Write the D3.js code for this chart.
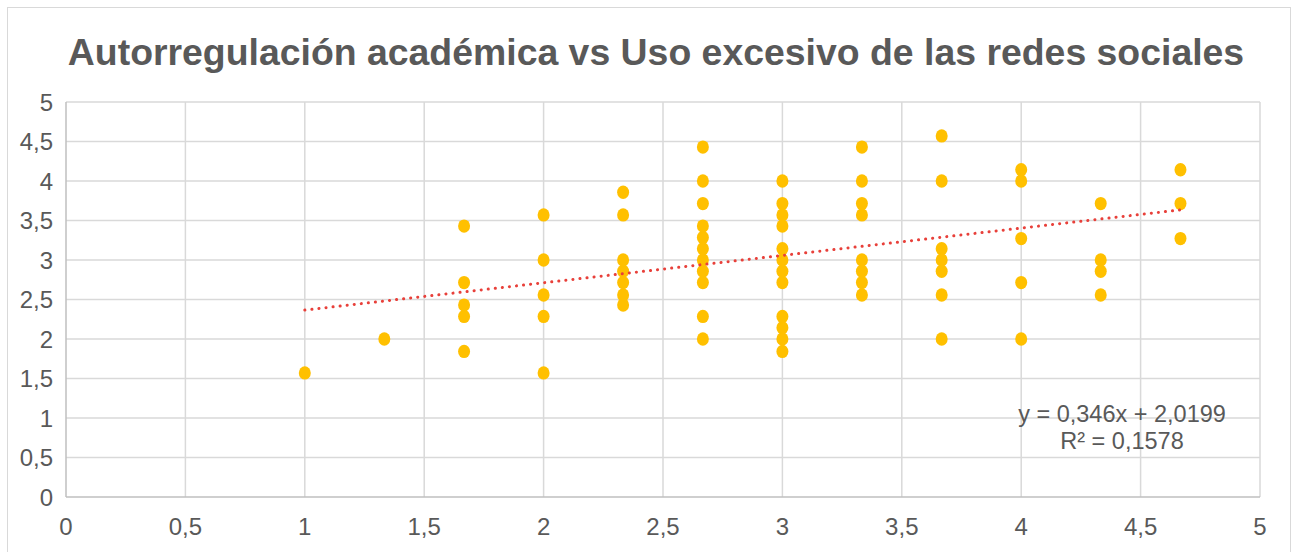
<!DOCTYPE html>
<html>
<head>
<meta charset="utf-8">
<script src="https://cdn.jsdelivr.net/npm/d3@7"></script>
<style>
  body { margin: 0; background: #fff; }
  svg { display: block; font-family: "Liberation Sans", Arial, sans-serif; }
</style>
</head>
<body>
<div id="chart"></div>
<script>
// x values (autorregulación) and y values (uso excesivo), one entry per point
var xs = [1, 1.333,
  1.667, 1.667, 1.667, 1.667, 1.667,
  2, 2, 2, 2, 2,
  2.333, 2.333, 2.333, 2.333, 2.333, 2.333, 2.333,
  2.667, 2.667, 2.667, 2.667, 2.667, 2.667, 2.667, 2.667, 2.667, 2.667, 2.667,
  3, 3, 3, 3, 3, 3, 3, 3, 3, 3, 3, 3,
  3.333, 3.333, 3.333, 3.333, 3.333, 3.333, 3.333, 3.333,
  3.667, 3.667, 3.667, 3.667, 3.667, 3.667, 3.667,
  4, 4, 4, 4, 4,
  4.333, 4.333, 4.333, 4.333,
  4.667, 4.667, 4.667];
var ys = [1.571, 2,
  3.429, 2.714, 2.429, 2.286, 1.843,
  3.571, 3, 2.557, 2.286, 1.571,
  3.857, 3.571, 3, 2.857, 2.714, 2.557, 2.429,
  4.429, 4, 3.714, 3.429, 3.286, 3.143, 3, 2.857, 2.714, 2.286, 2,
  4, 3.714, 3.571, 3.429, 3.143, 3, 2.857, 2.714, 2.286, 2.143, 2, 1.843,
  4.429, 4, 3.714, 3.571, 3, 2.857, 2.714, 2.557,
  4.571, 4, 3.143, 3, 2.857, 2.557, 2,
  4.143, 4, 3.271, 2.714, 2,
  3.714, 3, 2.857, 2.557,
  4.143, 3.714, 3.271];

var xTicks = [0, 0.5, 1, 1.5, 2, 2.5, 3, 3.5, 4, 4.5, 5];
var yTicks = [0, 0.5, 1, 1.5, 2, 2.5, 3, 3.5, 4, 4.5, 5];

var slope = 0.346, intercept = 2.0199;
var eqLines = ["y = 0,346x + 2,0199", "R² = 0,1578"];
var title = "Autorregulación académica vs Uso excesivo de las redes sociales";

var width = 1298, height = 552;
var margin = {left: 66, right: 38, top: 102, bottom: 55};

var svg = d3.select("#chart").append("svg")
    .attr("width", width)
    .attr("height", height);

// outer chart border
svg.append("rect")
    .attr("x", 7.5).attr("y", 7.5)
    .attr("width", 1283).attr("height", 560)
    .attr("fill", "#fff")
    .attr("stroke", "#d9d9d9")
    .attr("stroke-width", 1);

var x = d3.scaleLinear().domain([0, 5]).range([margin.left, width - margin.right]);
var y = d3.scaleLinear().domain([0, 5]).range([height - margin.bottom, margin.top]);

var fmt = function (d) { return String(d).replace(".", ","); };

// gridlines
var grid = svg.append("g");
grid.selectAll("line.v")
    .data(xTicks.slice(1))
    .join("line")
    .attr("class", "v")
    .attr("x1", function (d) { return x(d); })
    .attr("x2", function (d) { return x(d); })
    .attr("y1", y(0)).attr("y2", y(5))
    .attr("stroke", "#d9d9d9").attr("stroke-width", 1.5);
grid.selectAll("line.h")
    .data(yTicks.slice(1))
    .join("line")
    .attr("class", "h")
    .attr("x1", x(0)).attr("x2", x(5))
    .attr("y1", function (d) { return y(d); })
    .attr("y2", function (d) { return y(d); })
    .attr("stroke", "#d9d9d9").attr("stroke-width", 1.5);

// axis lines
svg.append("line")
    .attr("x1", x(0)).attr("x2", x(5))
    .attr("y1", y(0)).attr("y2", y(0))
    .attr("stroke", "#bfbfbf").attr("stroke-width", 1.5);
svg.append("line")
    .attr("x1", x(0)).attr("x2", x(0))
    .attr("y1", y(0)).attr("y2", y(5))
    .attr("stroke", "#bfbfbf").attr("stroke-width", 1.5);

// tick labels
svg.append("g").selectAll("text")
    .data(xTicks)
    .join("text")
    .attr("x", function (d) { return x(d); })
    .attr("y", y(0) + 38)
    .attr("text-anchor", "middle")
    .attr("font-size", 24)
    .attr("fill", "#595959")
    .text(fmt);

svg.append("g").selectAll("text")
    .data(yTicks)
    .join("text")
    .attr("x", x(0) - 13)
    .attr("y", function (d) { return y(d) + 8.5; })
    .attr("text-anchor", "end")
    .attr("font-size", 24)
    .attr("fill", "#595959")
    .text(fmt);

// points
var pts = d3.range(xs.length).map(function (i) { return {x: xs[i], y: ys[i]}; });
svg.append("g").selectAll("ellipse")
    .data(pts)
    .join("ellipse")
    .attr("cx", function (d) { return x(d.x); })
    .attr("cy", function (d) { return y(d.y); })
    .attr("rx", 6)
    .attr("ry", 6.7)
    .attr("fill", "#ffc000");

// linear trendline
var x0 = d3.min(xs), x1 = d3.max(xs);
svg.append("line")
    .attr("x1", x(x0)).attr("y1", y(slope * x0 + intercept))
    .attr("x2", x(x1)).attr("y2", y(slope * x1 + intercept))
    .attr("stroke", "#e8403a")
    .attr("stroke-width", 3)
    .attr("stroke-linecap", "round")
    .attr("stroke-dasharray", "0.1 7");

// equation
svg.append("g").selectAll("text")
    .data(eqLines)
    .join("text")
    .attr("x", 1122)
    .attr("y", function (d, i) { return 422 + i * 27; })
    .attr("text-anchor", "middle")
    .attr("font-size", 23.5)
    .attr("fill", "#595959")
    .text(function (d) { return d; });

// title
svg.append("text")
    .attr("x", 656)
    .attr("y", 65)
    .attr("text-anchor", "middle")
    .attr("font-size", 37.4)
    .attr("font-weight", "bold")
    .attr("fill", "#595959")
    .text(title);
</script>
</body>
</html>
